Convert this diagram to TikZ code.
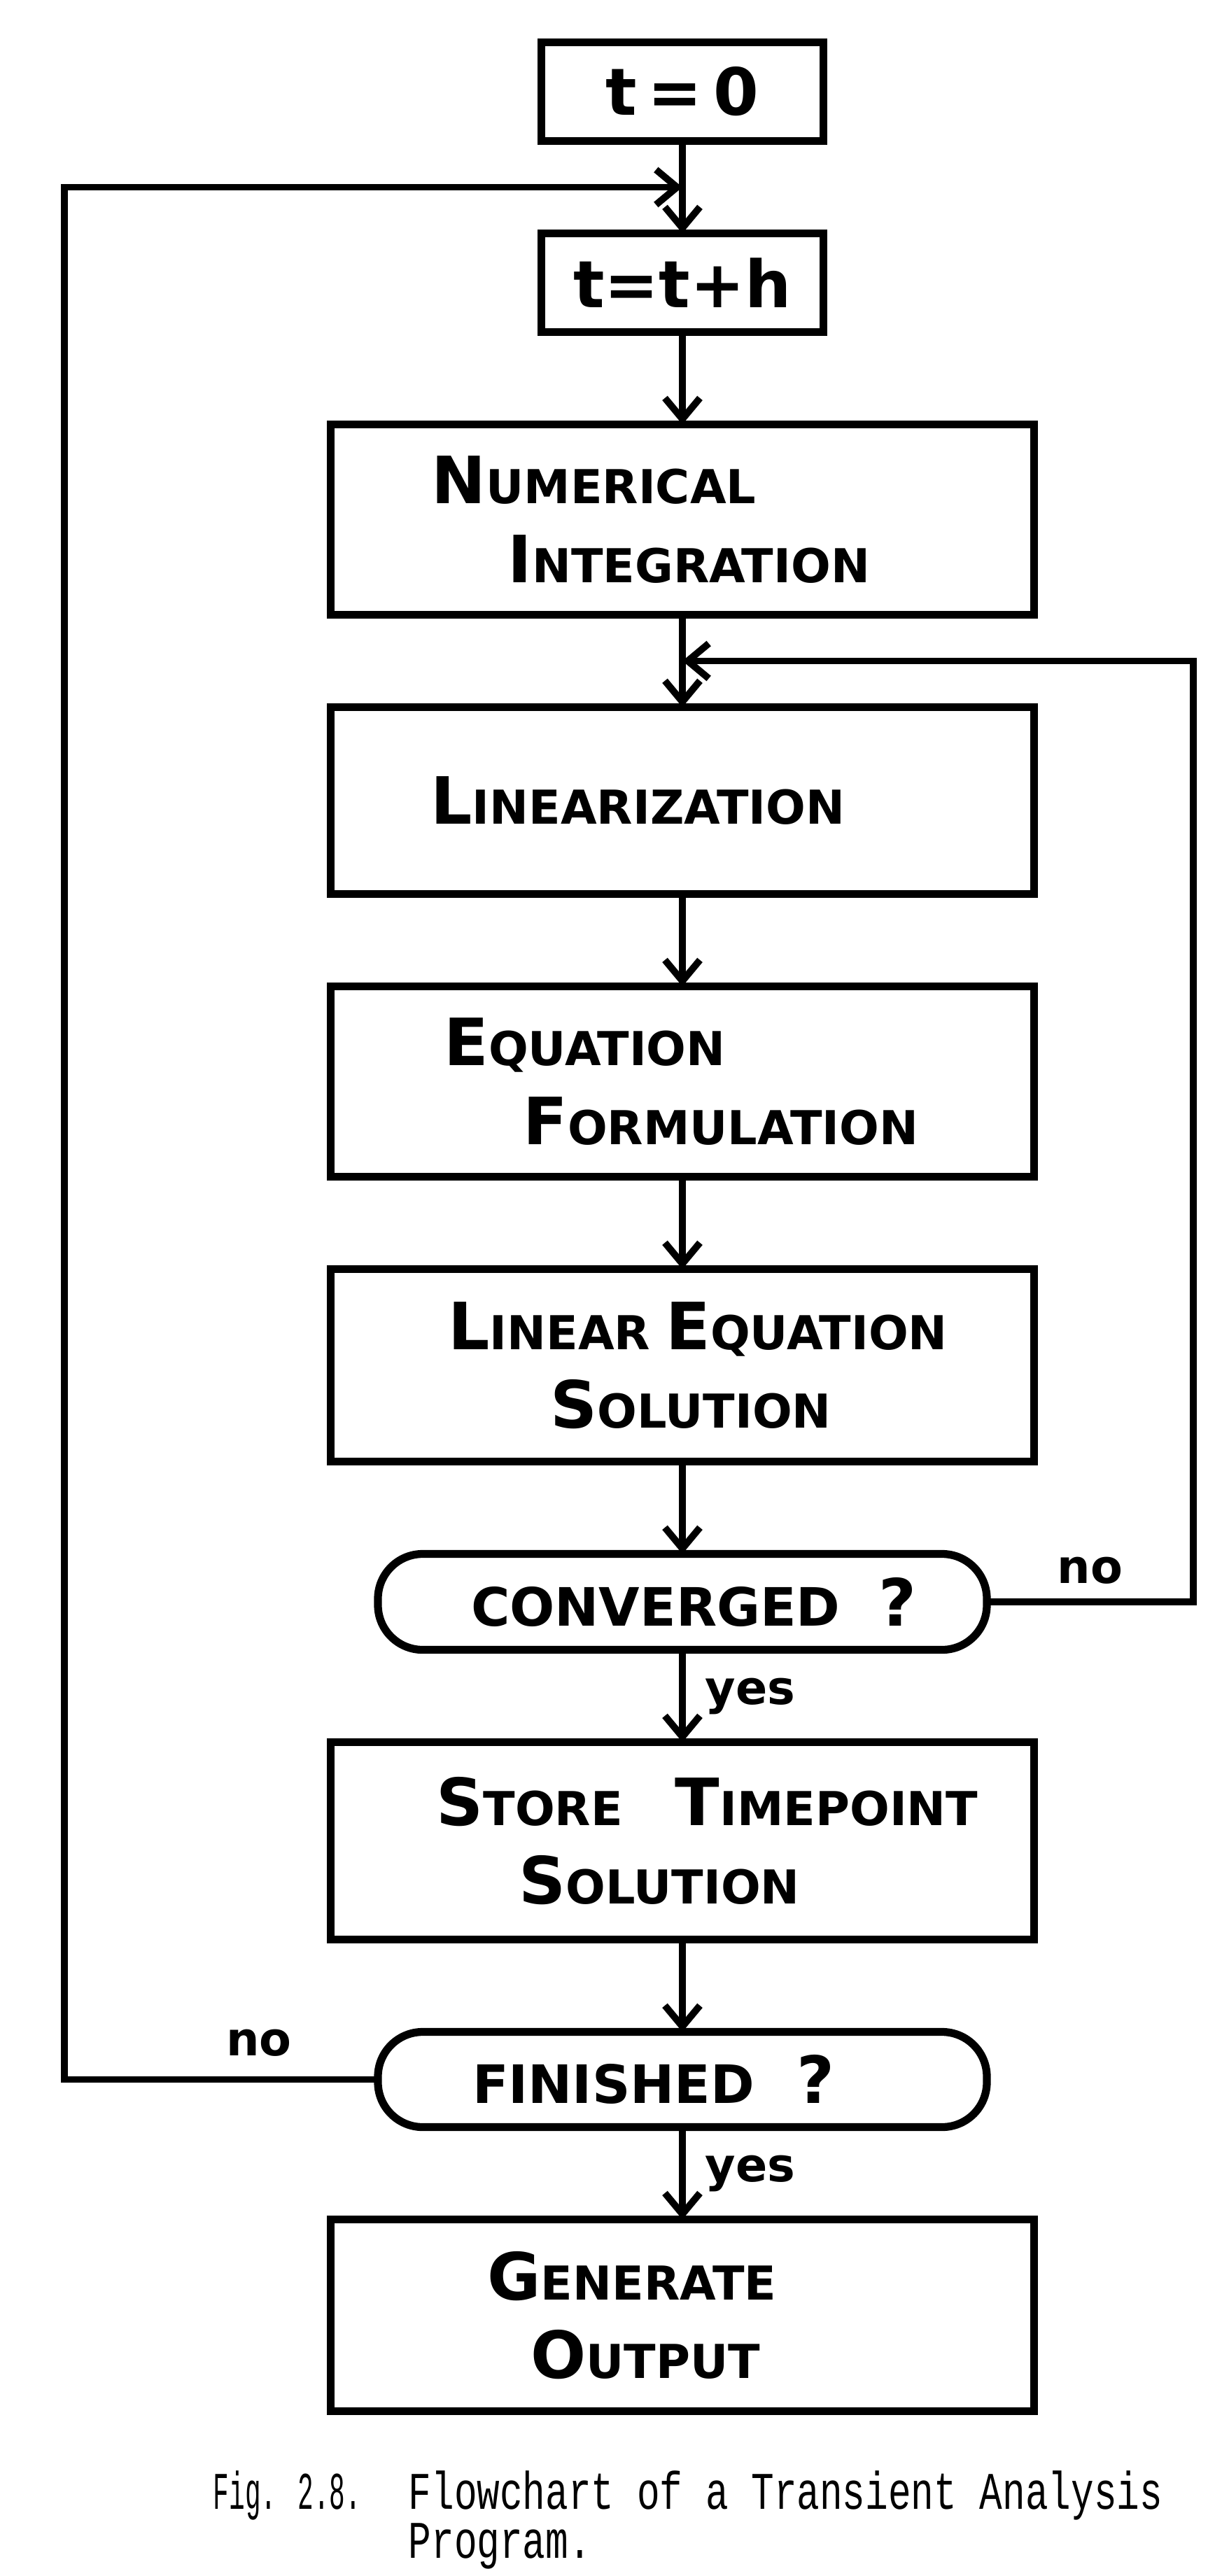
\documentclass[tikz,border=0pt]{standalone}
\usepackage{fontspec}
\setmainfont{DejaVu Sans}
\newfontfamily\typewriter{Liberation Mono}[FakeStretch=0.72]
\newfontfamily\typenarrow{Liberation Mono}[FakeStretch=0.5]
\usetikzlibrary{positioning}
\usetikzlibrary{calc}
\usetikzlibrary{arrows.meta}
\newcommand{\hcap}[2]{{\fontsize{26.5pt}{32pt}\selectfont #1}#2}
\newcommand{\bigq}{{\fontsize{26.5pt}{32pt}\selectfont ?}}

\begin{document}
\begin{tikzpicture}[
        node distance= 1.32cm,
        every node/.style={outer sep=0pt},
        hand/.style={font=\bfseries\fontsize{19pt}{32pt}\selectfont},
        box/.style={hand, draw, line width=3.2pt, rectangle, minimum width=10.05cm, text width=10.05cm, inner xsep=0pt, align=left},
        timebox/.style={draw, line width=3.2pt, rectangle, minimum width=4.03cm, minimum height=1.41cm, font=\bfseries\fontsize{26.5pt}{32pt}\selectfont},
        decide/.style={draw, line width=3.2pt, rounded corners=0.64cm, minimum width=8.7cm, text width=8.7cm, inner xsep=0pt, minimum height=1.37cm, align=left, font=\bfseries\fontsize{21.5pt}{32pt}\selectfont},
        lbl/.style={hand},
        capt/.style={font=\typewriter\fontsize{21.5pt}{26pt}\selectfont},
        arrow/.style={line width=2.8pt, -{Straight Barb[length=0.3cm, width=0.5cm]}},
    ]
        \useasboundingbox (0,0) rectangle (17.56,-36.81);

        \node[timebox] (start) at (9.75,-1.31) {t\,=\,0};
        \node[timebox, below=of start] (step) {t=t+h};
        \node[box, minimum height=2.72cm, below=of step] (integ) {\hspace*{1.44cm}\hcap{N}{UMERICAL}\\\hspace*{2.53cm}\hcap{I}{NTEGRATION}};
        \node[box, minimum height=2.67cm, below=of integ] (lin) {\hspace*{1.43cm}\hcap{L}{INEARIZATION}};
        \node[box, minimum height=2.72cm, below=of lin] (eqform) {\hspace*{1.62cm}\hcap{E}{QUATION}\\\hspace*{2.75cm}\hcap{F}{ORMULATION}};
        \node[box, minimum height=2.75cm, below=of eqform] (solve) {\hspace*{1.68cm}\hcap{L}{INEAR} \hcap{E}{QUATION}\\\hspace*{3.14cm}\hcap{S}{OLUTION}};
        \node[decide, below=of solve] (conv) {\hspace*{1.33cm}CONVERGED\hspace{0.55cm}\bigq};
        \node[box, minimum height=2.82cm, below=of conv] (store) {\hspace*{1.51cm}\hcap{S}{TORE}\hspace{0.75cm}\hcap{T}{IMEPOINT}\\\hspace*{2.69cm}\hcap{S}{OLUTION}};
        \node[decide, minimum height=1.36cm, below=of store] (finish) {\hspace*{1.35cm}FINISHED\hspace{0.6cm}\bigq};
        \node[box, minimum height=2.74cm, below=of finish] (output) {\hspace*{2.24cm}\hcap{G}{ENERATE}\\\hspace*{2.86cm}\hcap{O}{UTPUT}};

        \coordinate (join) at ($(start.south)!0.5!(step.north)$);
        \coordinate (rejoin) at ($(integ.south)!0.5!(lin.north)$);
        \coordinate (leftrail) at (0.92,0);
        \coordinate (rightrail) at (17.05,0);

        \draw[arrow] (start) -- (step);
        \draw[arrow] (step) -- (integ);
        \draw[arrow] (integ) -- (lin);
        \draw[arrow] (lin) -- (eqform);
        \draw[arrow] (eqform) -- (solve);
        \draw[arrow] (solve) -- (conv);
        \draw[arrow] (conv) -- node[lbl, right=6pt] (yesA) {yes} (store);
        \draw[arrow] (store) -- (finish);
        \draw[arrow] (finish) -- node[lbl, right=6pt] (yesB) {yes} (output);

        \draw[arrow] (conv.east) -- node[lbl, above=4pt, pos=0.5] (noA) {no} (conv.east -| rightrail) |- (rejoin);
        \draw[arrow] (finish.west) -- node[lbl, above=6pt, pos=0.38] (noB) {no} (finish.west -| leftrail) |- (join);

        \node[capt, anchor=base west] (figno) at (2.93,-35.85) {\typenarrow Fig. 2.8.};
        \node[capt, anchor=base west] (captA) at (5.72,-35.85) {Flowchart of a Transient Analysis};
        \node[capt, anchor=base west] (captB) at (5.72,-36.55) {Program.};
    \end{tikzpicture}
\end{document}
